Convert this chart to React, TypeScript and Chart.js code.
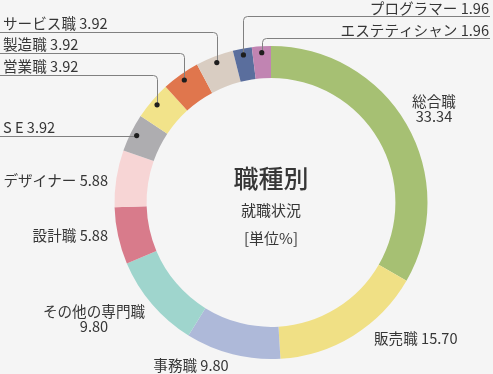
import { useEffect, useRef } from "react";
import { Chart, registerables } from "chart.js";
Chart.register(...registerables);

const categories = [
  "総合職",
  "販売職",
  "事務職",
  "その他の専門職",
  "設計職",
  "デザイナー",
  "S E",
  "営業職",
  "製造職",
  "サービス職",
  "プログラマー",
  "エステティシャン",
];
const values = [33.34, 15.7, 9.8, 9.8, 5.88, 5.88, 3.92, 3.92, 3.92, 3.92, 1.96, 1.96];
const valueLabels = ["33.34", "15.70", "9.80", "9.80", "5.88", "5.88", "3.92", "3.92", "3.92", "3.92", "1.96", "1.96"];
const colors = [
  "#a6c073",
  "#f0e085",
  "#aeb9d9",
  "#9fd5cd",
  "#d87b8b",
  "#f7d5d5",
  "#aeadb0",
  "#f2e38a",
  "#e0764d",
  "#d9cdc2",
  "#5a6e9d",
  "#c184b2",
];
const centerTitle = "職種別";
const centerSub = "就職状況";
const centerUnit = "[単位%]";

type Layout =
  | { kind: "free"; x: number; y: number; align: CanvasTextAlign; split: boolean }
  | { kind: "left"; lineY: number | null }
  | { kind: "right"; lineY: number };

const labelLayout: Layout[] = [
  { kind: "free", x: 434, y: 101.5, align: "center", split: true },
  { kind: "free", x: 374, y: 338.5, align: "left", split: false },
  { kind: "free", x: 191, y: 365, align: "center", split: false },
  { kind: "free", x: 94, y: 311, align: "center", split: true },
  { kind: "free", x: 108, y: 235, align: "right", split: false },
  { kind: "free", x: 108, y: 180, align: "right", split: false },
  { kind: "left", lineY: null },
  { kind: "left", lineY: 75.5 },
  { kind: "left", lineY: 53.5 },
  { kind: "left", lineY: 32.5 },
  { kind: "right", lineY: 16.5 },
  { kind: "right", lineY: 38.5 },
];

const FONT = '"Noto Sans CJK JP", "Noto Sans", sans-serif';
const TEXT = "#363636";
const LINE = "#808080";

const labelPlugin = {
  id: "outLabels",
  afterDraw(chart: any) {
    const ctx: CanvasRenderingContext2D = chart.ctx;
    const meta = chart.getDatasetMeta(0);
    ctx.save();
    ctx.font = `14.6px ${FONT}`;
    ctx.textBaseline = "middle";
    meta.data.forEach((arc: any, i: number) => {
      const p = arc.getProps(["x", "y", "startAngle", "endAngle", "innerRadius", "outerRadius"], true);
      const mid = (p.startAngle + p.endAngle) / 2;
      const r = p.innerRadius + (p.outerRadius - p.innerRadius) * 0.8;
      const dx = p.x + Math.cos(mid) * r;
      const dy = p.y + Math.sin(mid) * r;
      const lay = labelLayout[i];
      const text = `${categories[i]} ${valueLabels[i]}`;
      ctx.fillStyle = TEXT;
      if (lay.kind === "free") {
        ctx.textAlign = lay.align;
        if (lay.split) {
          ctx.fillText(categories[i], lay.x, lay.y);
          ctx.fillText(valueLabels[i], lay.x, lay.y + 15);
        } else {
          ctx.fillText(text, lay.x, lay.y);
        }
        return;
      }
      ctx.strokeStyle = LINE;
      ctx.lineWidth = 1;
      const vx = Math.round(dx) + 0.5;
      const cr = 4;
      ctx.beginPath();
      if (lay.kind === "left") {
        if (lay.lineY === null) {
          const ly = Math.round(dy) + 0.5;
          ctx.moveTo(0, ly);
          ctx.lineTo(dx, ly);
          ctx.stroke();
          ctx.textAlign = "left";
          ctx.fillText(text, 3, ly - 9);
        } else {
          const ly = lay.lineY;
          ctx.moveTo(0, ly);
          ctx.lineTo(vx - cr, ly);
          ctx.quadraticCurveTo(vx, ly, vx, ly + cr);
          ctx.lineTo(vx, dy);
          ctx.stroke();
          ctx.textAlign = "left";
          ctx.fillText(text, 3, ly - 9);
        }
      } else {
        const ly = lay.lineY;
        ctx.moveTo(490, ly);
        ctx.lineTo(vx + cr, ly);
        ctx.quadraticCurveTo(vx, ly, vx, ly + cr);
        ctx.lineTo(vx, dy);
        ctx.stroke();
        ctx.textAlign = "right";
        ctx.fillText(text, 489, ly - 8.5);
      }
      ctx.fillStyle = "#1e1e1e";
      ctx.beginPath();
      ctx.arc(dx, dy, 2.6, 0, Math.PI * 2);
      ctx.fill();
    });
    // center texts
    const a = meta.data[0];
    const cx = a.x;
    const cy = a.y;
    ctx.fillStyle = TEXT;
    ctx.textAlign = "center";
    ctx.font = `500 25px ${FONT}`;
    ctx.fillText(centerTitle, cx, cy - 24.5);
    ctx.font = `15px ${FONT}`;
    ctx.fillText(centerSub, cx, cy + 7.5);
    ctx.fillText(centerUnit, cx, cy + 35.5);
    ctx.restore();
  },
};

export default function App() {
  const ref = useRef<HTMLCanvasElement>(null);
  useEffect(() => {
    document.body.style.margin = "0";
    document.body.style.background = "#f5f5f5";
    const chart = new Chart(ref.current!, {
      type: "doughnut",
      data: {
        labels: categories,
        datasets: [
          {
            data: values,
            backgroundColor: colors,
            borderWidth: 0,
            hoverOffset: 0,
          },
        ],
      },
      options: {
        responsive: false,
        animation: false,
        cutout: "79.5%",
        layout: { padding: { left: 114.5, right: 65.5, top: 46, bottom: 15 } },
        plugins: {
          legend: { display: false },
          tooltip: { enabled: false },
        },
      },
      plugins: [labelPlugin],
    });
    return () => chart.destroy();
  }, []);
  return (
    <div style={{ position: "absolute", left: 0, top: 0, width: 493, height: 374, background: "#f5f5f5" }}>
      <canvas ref={ref} width={493} height={374} />
    </div>
  );
}
